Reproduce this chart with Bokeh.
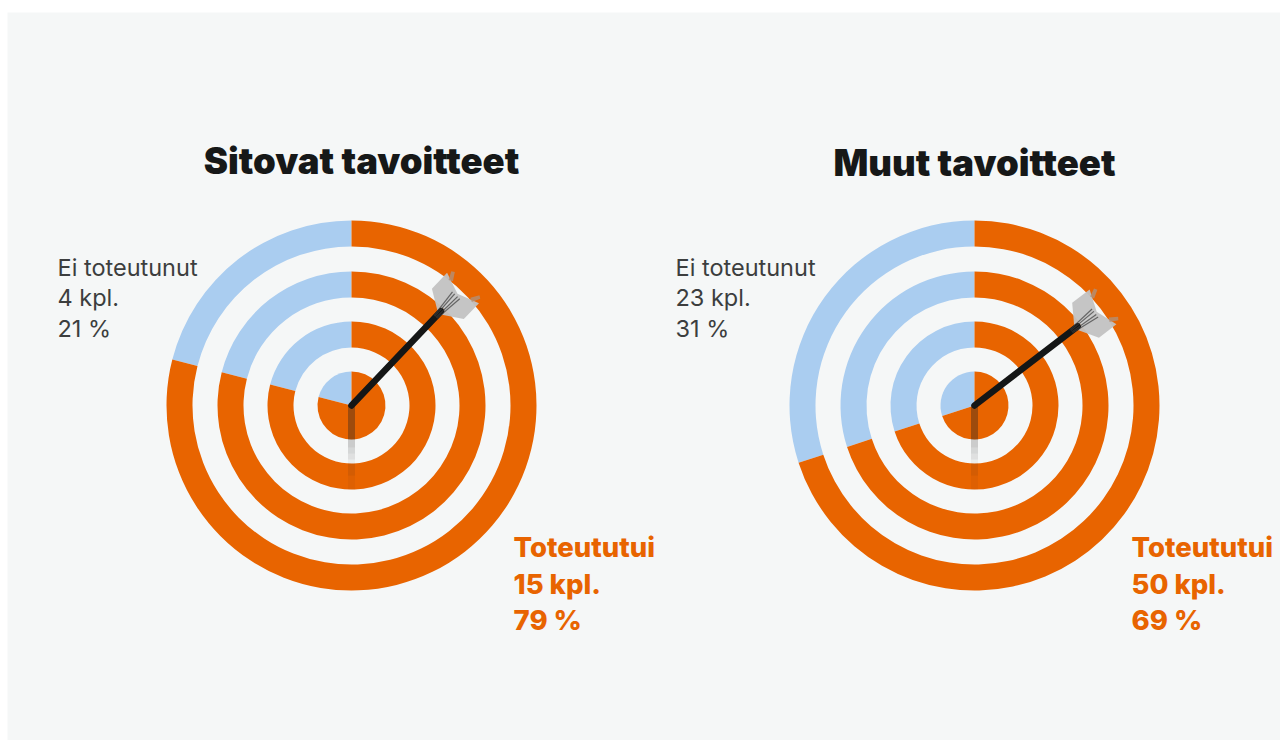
from math import pi, cos, sin, radians
from bokeh.plotting import figure
from bokeh.models import Range1d
from bokeh.embed import file_html
from bokeh.resources import INLINE
from bokeh.core.properties import value

titles = ["Sitovat tavoitteet", "Muut tavoitteet"]
not_label = "Ei toteutunut"
done_label = "Toteututui"
not_counts = [4, 23]
done_counts = [15, 50]
not_pct = [21, 31]
done_pct = [79, 69]
# share of each target drawn in blue, as read from the rings
not_share = [21.0, 30.0]

ORANGE = "#e86400"
BLUE = "#aacdf0"
INK = "#161818"
GREY = "#3c3e3e"
PANEL = "#f5f7f7"
RINGS = [(159, 185), (108, 134), (58, 84), (0, 34)]
CENTERS = [(352, 406), (975, 406)]
TITLE_POS = [(362, 161), (975, 163)]
NOT_X = [58, 676]
NOT_Y = [267.5, 297.5, 328.5]
DONE_X = [514, 1132]
DONE_Y = [547, 584, 620]
DART_ANGLES = [46.5, 37.5]

p = figure(width=1280, height=740, output_backend="svg", toolbar_location=None,
           x_range=Range1d(1, 1281), y_range=Range1d(741, 1),
           min_border=0, outline_line_color=None,
           background_fill_color="#ffffff", border_fill_color="#ffffff")
p.axis.visible = False
p.grid.visible = False

p.quad(left=[8], right=[1281], top=[13], bottom=[741], fill_color=PANEL, line_width=0)

for i, (cx, cy) in enumerate(CENTERS):
    split = pi / 2 + not_share[i] / 100 * 2 * pi
    for r0, r1 in RINGS:
        p.annular_wedge([cx], [cy], r0, r1, [pi / 2], [split], color=BLUE, line_width=0)
        p.annular_wedge([cx], [cy], r0, r1, [split], [pi / 2 + 2 * pi], color=ORANGE, line_width=0)

    # drop shadow of the dart
    steps = [(0, 34, 0.38), (34, 42, 0.2), (42, 48, 0.15), (48, 54, 0.1), (54, 58, 0.05),
             (58, 70, 0.1), (70, 84, 0.05)]
    for a, b, al in steps:
        p.quad(left=[cx - 3.5], right=[cx + 3.5], top=[cy + a], bottom=[cy + b],
               fill_color="#222222", fill_alpha=al, line_width=0)

    th = radians(DART_ANGLES[i])
    ux, uy = cos(th), -sin(th)
    vx, vy = -uy, ux

    def pt(a, b):
        return cx + ux * a + vx * b, cy + uy * a + vy * b

    # flights
    for s in (-1, 1):
        poly = [pt(126, 0), pt(140, s * 22), pt(162, s * 22), pt(154, 0)]
        p.patch([q[0] for q in poly], [q[1] for q in poly], fill_color="#c2c2c2", fill_alpha=0.95, line_width=0)
        tip = [pt(158, s * 16), pt(166, s * 20), pt(168, s * 17), pt(160, s * 12)]
        p.patch([q[0] for q in tip], [q[1] for q in tip], fill_color="#b09078", fill_alpha=0.8, line_width=0)
    # shaft
    a0, b0 = pt(0, 0), pt(130, 0)
    p.line([a0[0], b0[0]], [a0[1], b0[1]], line_color="#141616", line_width=6.5, line_cap="round")
    for off in (-5, -2, 2, 5):
        a1, b1 = pt(122, off * 0.4), pt(152, off)
        p.line([a1[0], b1[0]], [a1[1], b1[1]], line_color="#3a3a3a", line_width=1.2, line_alpha=0.7)

    p.text([TITLE_POS[i][0]], [TITLE_POS[i][1]], [titles[i]], text_font=value("Inter Black"),
           text_font_size="36.5px", text_color=INK,
           text_align="center", text_baseline="alphabetic")

    left = [not_label, f"{not_counts[i]} kpl.", f"{not_pct[i]} %"]
    for txt, y in zip(left, NOT_Y):
        p.text([NOT_X[i]], [y], [txt], text_font=value("Inter"), text_font_size="23.5px",
               text_color=GREY, text_baseline="alphabetic")
    right = [done_label, f"{done_counts[i]} kpl.", f"{done_pct[i]} %"]
    for txt, y in zip(right, DONE_Y):
        p.text([DONE_X[i]], [y], [txt], text_font=value("Inter ExtraBold"),
               text_font_size="27.5px", text_color=ORANGE, text_baseline="alphabetic")

open("out.html", "w").write(file_html(p, INLINE))
